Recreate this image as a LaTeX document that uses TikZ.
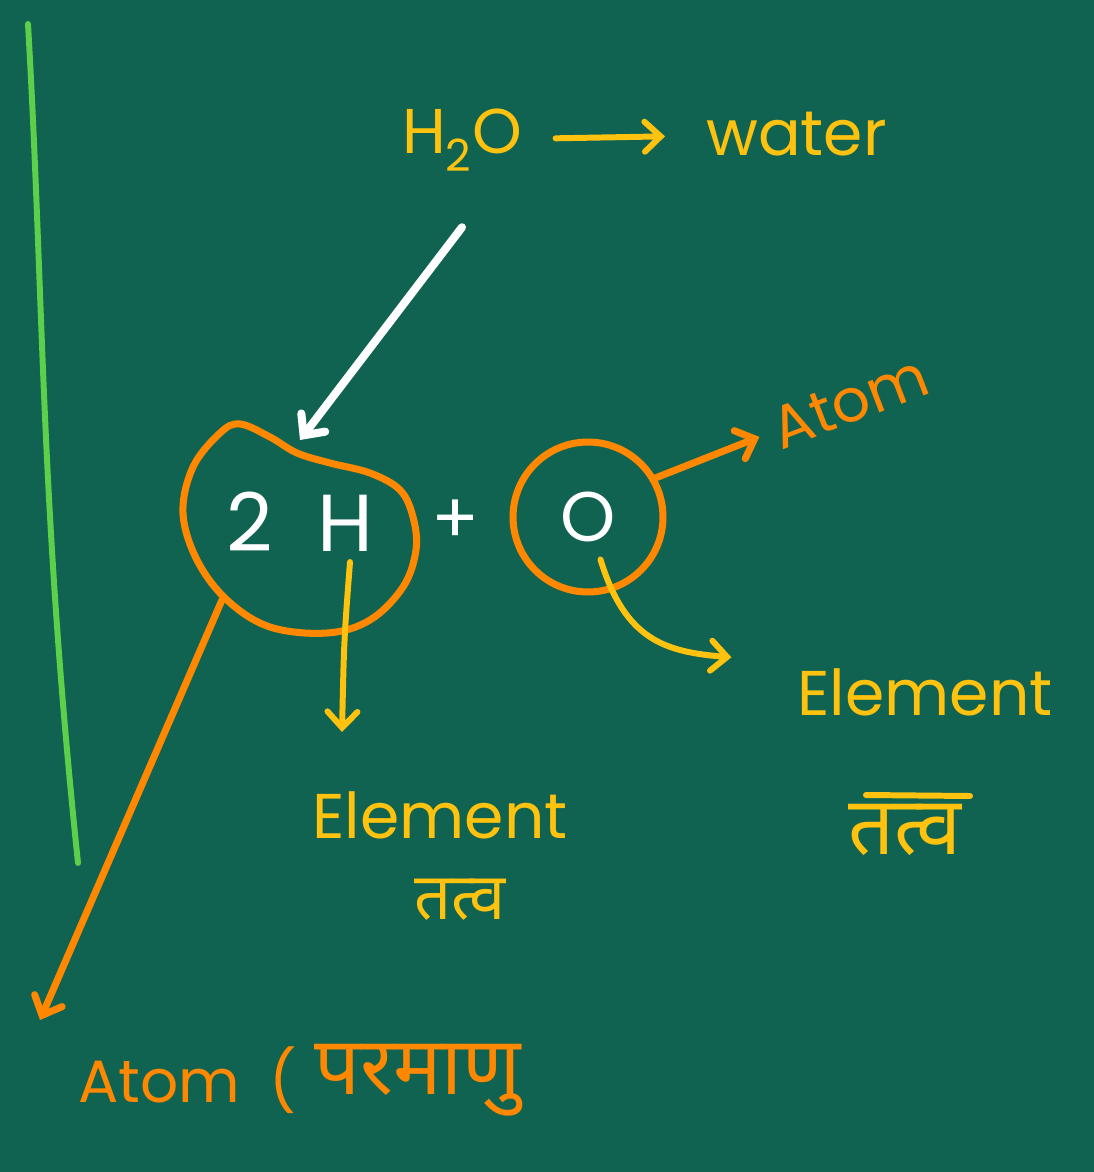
\documentclass[tikz,border=0pt]{standalone}
\usepackage{fontspec}
\setmainfont{Poppins}
\newfontfamily\devafont[Script=Devanagari]{Noto Sans}
\usetikzlibrary{arrows.meta,positioning}
\definecolor{board}{RGB}{16,99,80}
\definecolor{chalkyellow}{RGB}{255,194,14}
\definecolor{chalkorange}{RGB}{255,136,0}
\definecolor{chalkgreen}{RGB}{92,208,74}
\begin{document}
\begin{tikzpicture}[x=0.02cm, y=-0.02cm,
  yellowtext/.style={text=chalkyellow, font=\fontsize{36}{40}\selectfont},
  orangetext/.style={text=chalkorange, font=\fontsize{34}{40}\selectfont},
  whitetext/.style={text=white, font=\fontsize{40}{44}\selectfont},
  devatext/.style={text=chalkyellow, font=\devafont\fontsize{46}{52}\selectfont},
  barb/.tip={Straight Barb[length=0.32cm, width=0.6cm, line cap=round]},
  yellowline/.style={draw=chalkyellow, line width=3.4pt, line cap=round},
  orangeline/.style={draw=chalkorange, line width=4pt, line cap=round},
  whiteline/.style={draw=white, line width=4.6pt, line cap=round}]
% Board
\fill[board] (0,0) rectangle (1094,1172);
\useasboundingbox (0,0) rectangle (1094,1172);
\draw[draw=chalkgreen, line width=3.4pt, line cap=round] (28,24) .. controls (44,300) and (40,500) .. (78,863);

% Formula
\node[yellowtext] (h2o) at (462,140) {H\textsubscript{2}O};
\node[yellowtext, anchor=west] (water) at (700,134) {water};
\draw[yellowline, -barb, shorten <=0.55cm, shorten >=0.7cm] (h2o) -- (water);

% Hydrogen part
\draw[orangeline] plot[smooth cycle, tension=0.6] coordinates {(220,433) (240,424) (270,437) (297,453) (330,463) (370,473) (400,490) (413,517) (416,550) (403,587) (370,620) (327,633) (270,627) (227,600) (197,560) (183,513) (193,467)};
\coordinate (blobtop) at (300,440);
\coordinate (blobfoot) at (222,600);
\node[whitetext, font=\fontsize{46}{50}\selectfont] (twoh) at (300,522) {2\hspace{0.9cm}H};
\node[whitetext] (plus) at (455,522) {+};
\draw[whiteline, -barb] ([yshift=-1cm]h2o.south) -- (blobtop);

% Oxygen part
\node[whitetext, circle, draw=chalkorange, line width=4pt, minimum size=3cm] (oxy) at (588,517) {O};
\node[orangetext, rotate=21] (atomtop) at (850,402) {Atom};
\draw[orangeline, -barb, shorten >=0.2cm] (oxy.30) -- (atomtop.west);

% Labels below
\coordinate (hfoot) at (350,562);
\coordinate (harrow) at (342,732);
\draw[yellowline, -barb] (hfoot) .. controls (344,640) .. (harrow);
\node[yellowtext] (elemmid) at (440,815) {Element};
\node[devatext, font=\devafont\fontsize{37}{42}\selectfont] (tatvamid) at (460,900) {तत्व};

\node[yellowtext] (elemright) at (925,692) {Element};
\draw[yellowline, -barb, shorten >=1.2cm] ([xshift=0.25cm, yshift=-0.85cm]oxy.center) .. controls (625,640) and (665,652) .. (elemright.north west);
\node[devatext] (tatvaright) at (905,830) {तत्व};
\draw[yellowline] (866,795) -- (970,796);

% Atom
\coordinate (atomfoot) at (40,1020);
\draw[orangeline, -barb] (blobfoot) -- (atomfoot);
\node[orangetext, anchor=west] (atombottom) at (72,1080) {Atom\hspace{0.6cm}(};
\node[devatext, text=chalkorange, right=0.1cm of atombottom] (paramanu) {परमाणु};
\end{tikzpicture}
\end{document}
